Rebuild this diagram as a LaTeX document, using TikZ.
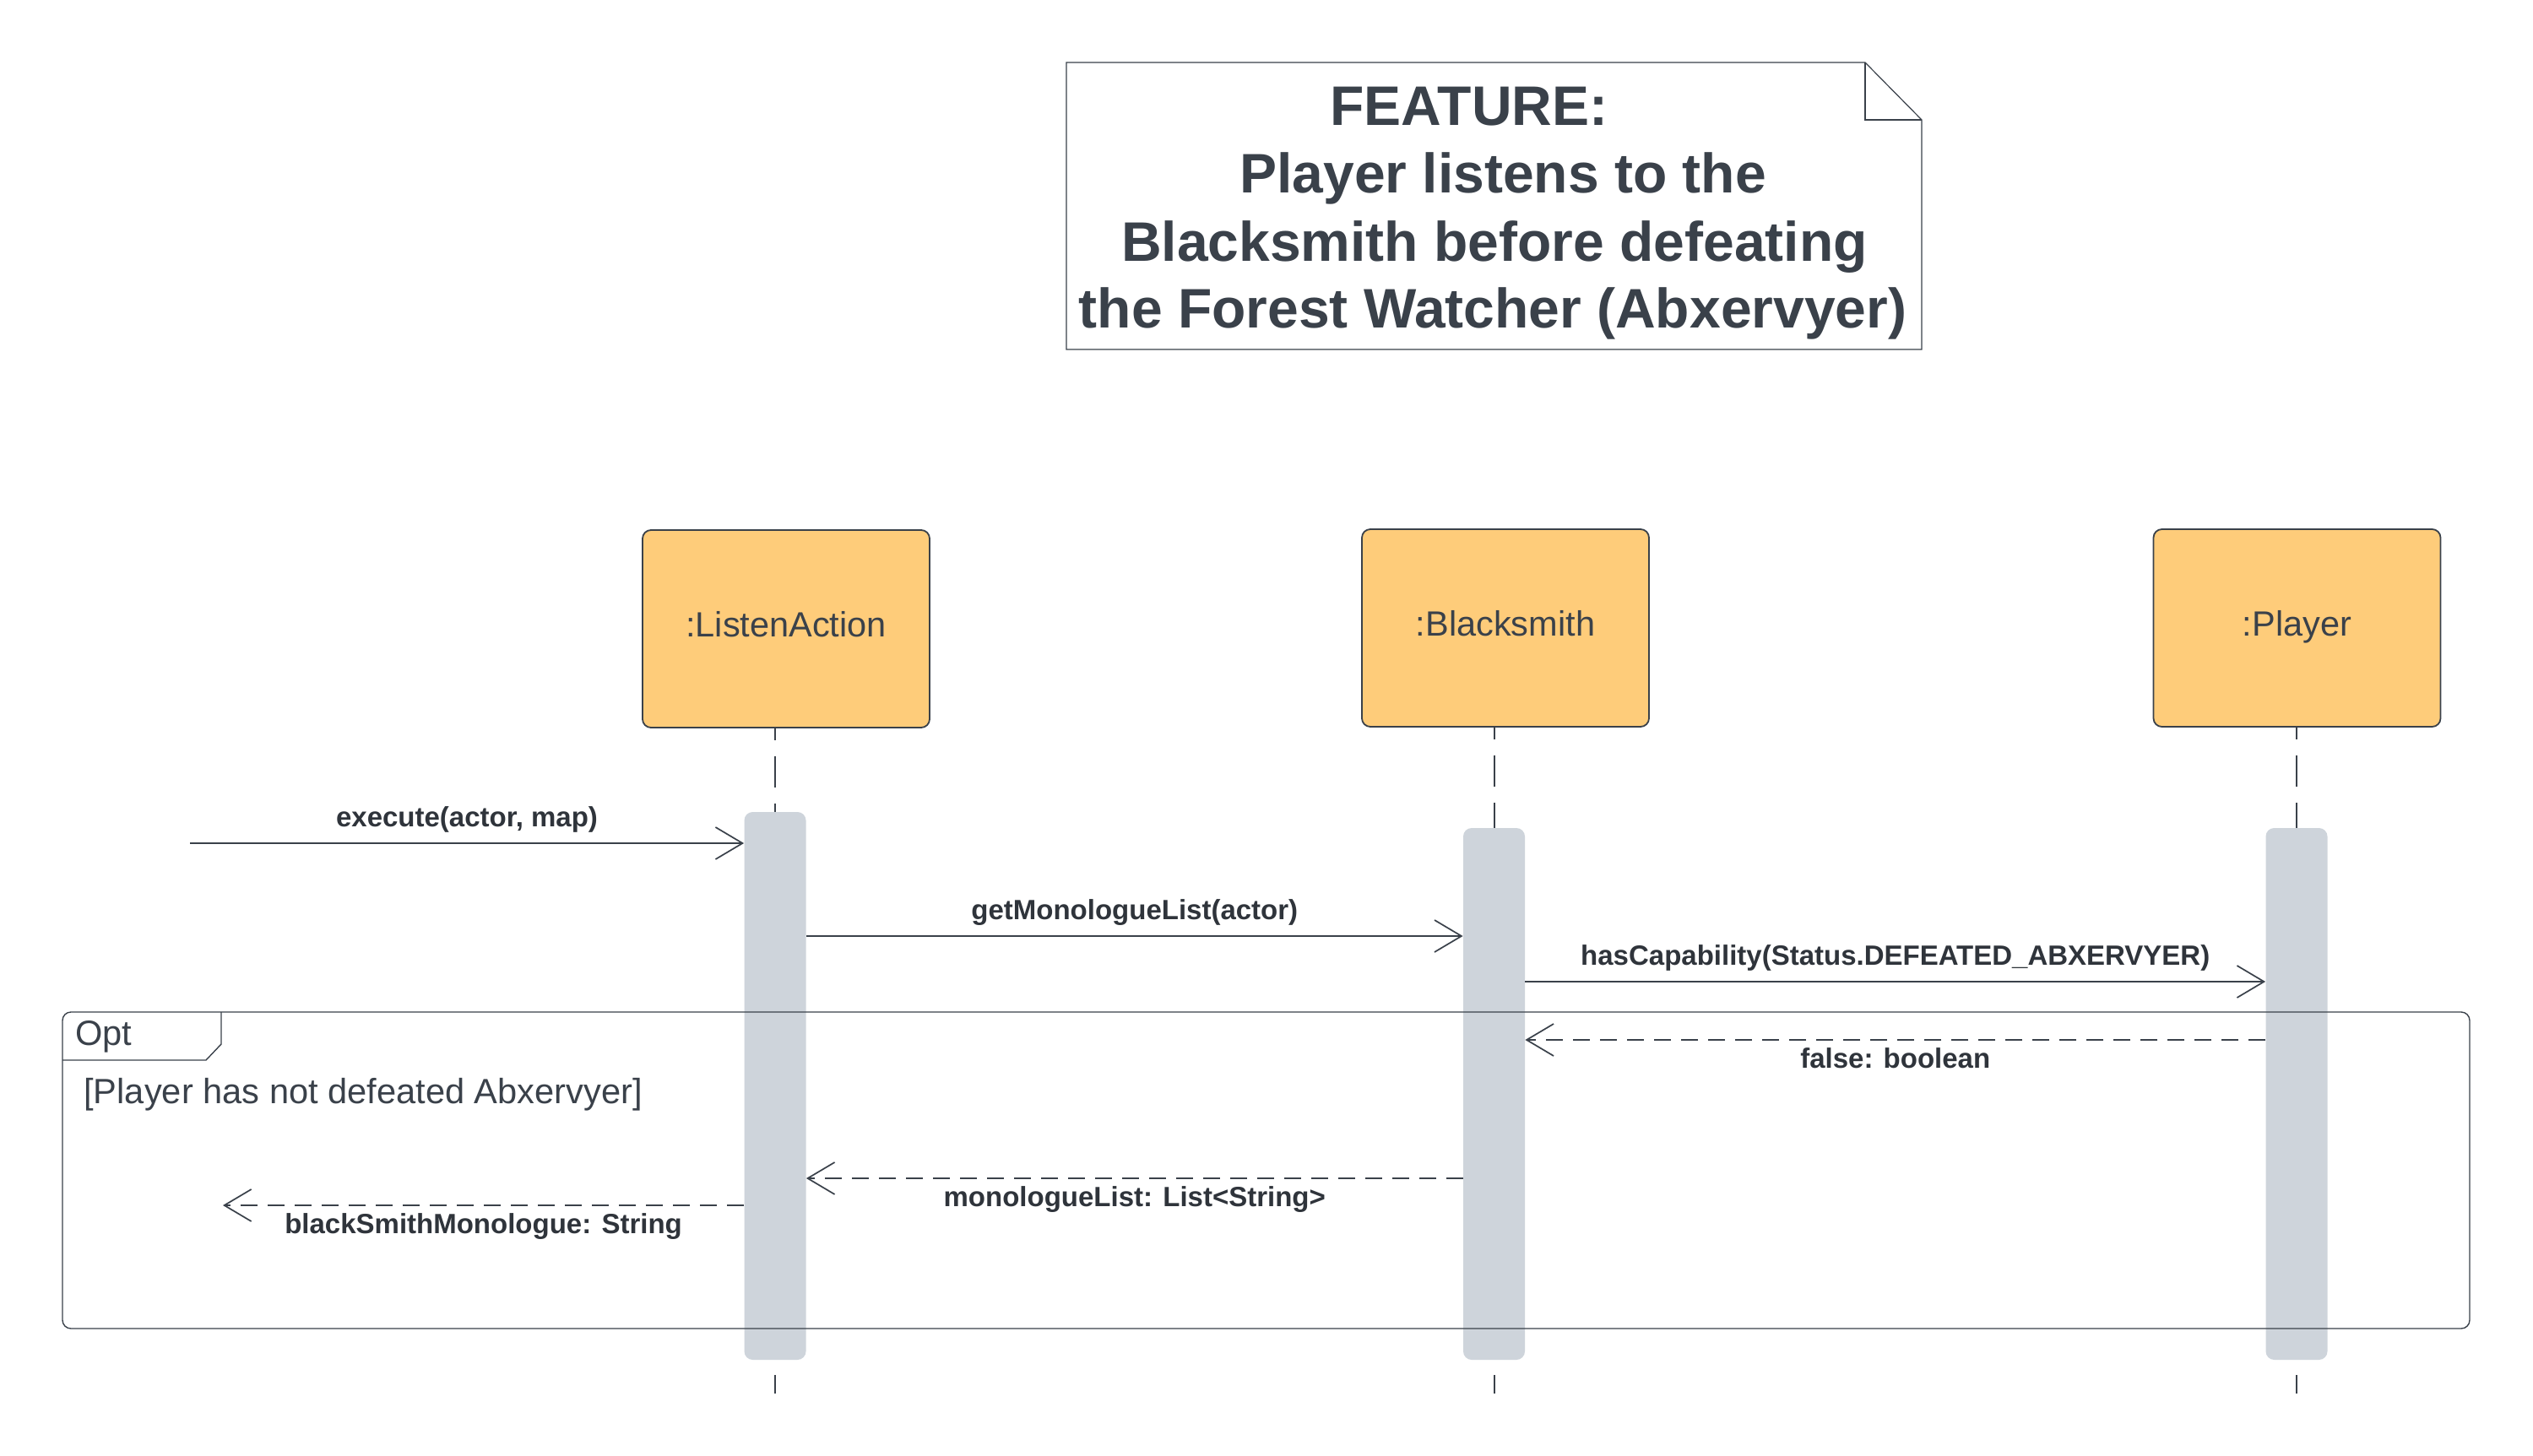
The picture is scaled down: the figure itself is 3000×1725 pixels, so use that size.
\documentclass[tikz,border=0pt]{standalone}
\usepackage{fontspec}
\setmainfont{Liberation Sans}
\usetikzlibrary{arrows.meta}
\definecolor{ink}{HTML}{3A414A}
\definecolor{lbl}{HTML}{2F343B}
\definecolor{boxfill}{RGB}{254,204,122}
\definecolor{barfill}{HTML}{CED4DB}
\tikzset{
  lifebox/.style={draw=ink, fill=boxfill, line width=0.9pt, rounded corners=5pt, minimum width=170pt, minimum height=117pt, inner sep=0pt, text height=14pt, text depth=5pt, font=\fontsize{20.75pt}{25pt}\selectfont, text=ink},
  actbar/.style={fill=barfill, draw=none, rounded corners=5pt, minimum width=36.5pt, inner sep=0pt},
  lifeline/.style={draw=ink, line width=1pt, dash pattern=on 18.5pt off 9.5pt, dash phase=11.5pt},
  lifetick/.style={draw=ink, line width=1pt},
  msg/.style={draw=ink, line width=0.85pt, -{Straight Barb[length=16pt,width=19pt]}},
  retmsg/.style={msg, dash pattern=on 10pt off 6pt},
  mlabel/.style={font=\bfseries\fontsize{16.5pt}{20pt}\selectfont, text=lbl, inner sep=0pt, anchor=base},
  titleline/.style={font=\bfseries\fontsize{33pt}{40pt}\selectfont, text=ink, inner sep=0pt, anchor=base},
  frametext/.style={font=\fontsize{20.8pt}{25pt}\selectfont, text=ink, inner sep=0pt, anchor=base west},
  frameline/.style={draw=ink, line width=0.7pt},
}
\begin{document}
\begin{tikzpicture}[x=0.5pt,y=-0.5pt]
\useasboundingbox (0,0) rectangle (3000,1725);
\fill[white] (0,0) rectangle (3000,1725);
% note
\draw[ink, line width=0.6pt] (1263,74) -- (2209,74) -- (2276,142) -- (2276,414) -- (1263,414) -- cycle;
\draw[ink, line width=0.6pt] (2209,74) -- (2209,142) -- (2276,142);
\node[titleline] (t1) at (1740,148) {FEATURE:};
\node[titleline] (t2) at (1780,228) {Player listens to the};
\node[titleline] (t3) at (1770,309) {Blacksmith before defeating};
\node[titleline] (t4) at (1768,388) {the Forest Watcher (Abxervyer)};
% lifeline heads
\node[lifebox] (la) at (931,745) {:ListenAction};
\node[lifebox] (bs) at (1783,744) {:Blacksmith};
\node[lifebox] (pl) at (2720.5,744) {:Player};
% activation bars
\node[actbar, minimum height=324.5pt] (labar) at (918,1286.5) {};
\node[actbar, minimum height=315pt] (bsbar) at (1769.5,1296) {};
\node[actbar, minimum height=315pt] (plbar) at (2720,1296) {};
% lifelines
\draw[lifeline] (labar.north |- la.south) -- (labar.north);
\draw[lifeline] (bsbar.north |- bs.south) -- (bsbar.north);
\draw[lifeline] (plbar.north |- pl.south) -- (plbar.north);
\draw[lifetick] ([yshift=-9pt]labar.south) -- ([yshift=-20pt]labar.south);
\draw[lifetick] ([yshift=-9pt]bsbar.south) -- ([yshift=-20pt]bsbar.south);
\draw[lifetick] ([yshift=-9pt]plbar.south) -- ([yshift=-20pt]plbar.south);
% opt frame
\draw[frameline, rounded corners=5pt] (74,1199) rectangle (2925,1574);
\draw[frameline] (74,1256) -- (244,1256) -- (262,1237) -- (262,1199);
\node[frametext] (opt) at (89,1238) {Opt};
\node[frametext] (guard) at (99,1307) {[Player has not defeated Abxervyer]};
% messages
\coordinate (src) at (225,999);
\coordinate (sink) at (264,1428);
\draw[msg] (src) -- (labar.west |- src)
  node[mlabel, midway, yshift=10pt] {execute(actor, map)};
\draw[msg] (labar.east |- 0,1109) -- (bsbar.west |- 0,1109)
  node[mlabel, midway, yshift=10pt] {getMonologueList(actor)};
\draw[msg] (bsbar.east |- 0,1163) -- (plbar.west |- 0,1163)
  node[mlabel, midway, yshift=10pt] {hasCapability(Status.DEFEATED\_ABXERVYER)};
\draw[retmsg] (plbar.west |- 0,1232) -- (bsbar.east |- 0,1232)
  node[mlabel, midway, yshift=-16.5pt] {false: boolean};
\draw[retmsg] (bsbar.west |- 0,1396) -- (labar.east |- 0,1396)
  node[mlabel, midway, yshift=-16.5pt] {monologueList: List<String>};
\draw[retmsg] (labar.west |- sink) -- (sink)
  node[mlabel, midway, yshift=-16.5pt] {blackSmithMonologue: String};
\end{tikzpicture}
\end{document}
